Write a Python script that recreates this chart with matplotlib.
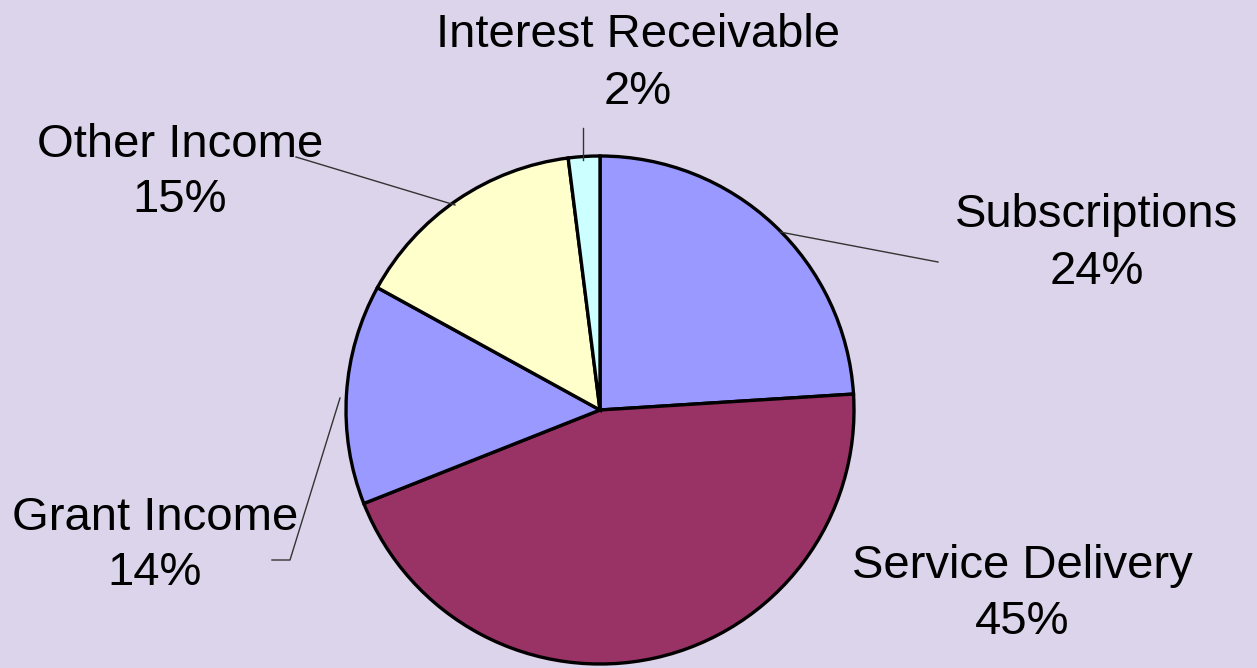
import matplotlib.pyplot as plt

labels = ['Subscriptions', 'Service Delivery', 'Grant Income', 'Other Income', 'Interest Receivable']
shares = [24, 45, 14, 15, 2]
colors = ['#9999FF', '#993366', '#9999FF', '#FFFFCC', '#CCFFFF']

W, H = 1257, 668
cx, cy, r = 600, 410, 254  # pie centre and radius in pixels (from top)

fig = plt.figure(figsize=(W / 100, H / 100), dpi=100)
fig.patch.set_facecolor('#DCD4EA')
ax = fig.add_axes([0, 0, 1, 1])

ax.pie(shares, colors=colors, startangle=90, counterclock=False, radius=1,
       wedgeprops=dict(edgecolor='black', linewidth=2.4))
ax.set_xlim(-cx / r, (W - cx) / r)
ax.set_ylim(-(H - cy) / r, cy / r)
ax.set_aspect('equal', adjustable='datalim')
ax.axis('off')

def px(x, y):
    return (x - cx) / r, (cy - y) / r

# label positions (pixels) for name line and percentage line
label_pos = {
    'Subscriptions': (1097, 215, 272),
    'Service Delivery': (1022, 566, 622),
    'Grant Income': (155, 518, 573),
    'Other Income': (180, 145, 200),
    'Interest Receivable': (638, 35, 92),
}
for name, val in zip(labels, shares):
    x, y1, y2 = label_pos[name]
    ax.text(*px(x, y1), name, ha='center', va='center', fontsize=34, family='Liberation Sans')
    ax.text(*px(x, y2), f'{val}%', ha='center', va='center', fontsize=34, family='Liberation Sans')

# leader lines
leaders = [
    [(583, 160), (583, 128)],
    [(455, 205), (296, 157)],
    [(780, 232), (938, 262)],
    [(340, 398), (290, 560), (272, 560)],
]
for pts in leaders:
    xs, ys = zip(*[px(*p) for p in pts])
    ax.plot(xs, ys, color='#333333', linewidth=1)

fig.savefig('out.png', facecolor=fig.get_facecolor())
